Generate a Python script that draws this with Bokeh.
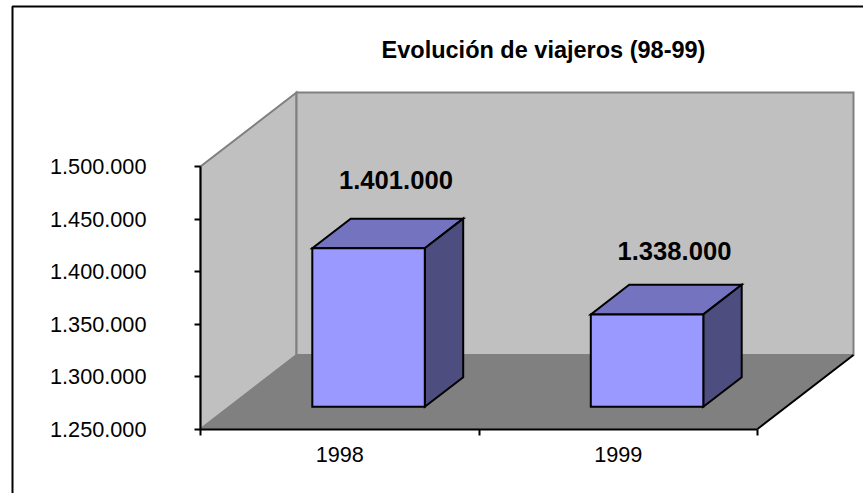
from bokeh.plotting import figure
from bokeh.embed import file_html
from bokeh.resources import INLINE
from bokeh.models import FixedTicker, LinearAxis, Range1d, Label
from bokeh.core.properties import value

categories = ["1998", "1999"]
viajeros = [1401000, 1338000]
value_labels = ["1.401.000", "1.338.000"]
y_ticks = [1250000, 1300000, 1350000, 1400000, 1450000, 1500000]
y_tick_labels = ["1.250.000", "1.300.000", "1.350.000", "1.400.000", "1.450.000", "1.500.000"]
title = "Evolución de viajeros (98-99)"

W, H = 863, 493
FONT = "Liberation Sans"
# pixel scale of the chart box
X0, X1, Y0, Y1 = 200.0, 757.0, 428.5, 166.0
VMIN, VMAX = 1250000, 1500000
sx = (X1 - X0) / 2.0
sy = (Y0 - Y1) / (VMAX - VMIN)
DX = 96.0 / sx          # depth of the box in data units
DY = 74.0 / sy

x_range = Range1d(-X0 / sx, (W - X0) / sx)
y_range = Range1d(VMIN - (H - Y0) / sy, VMIN + Y0 / sy)

p = figure(width=W, height=H, x_range=x_range, y_range=y_range,
           output_backend="svg", toolbar_location=None,
           x_axis_type=None, y_axis_type=None,
           min_border=0, min_border_left=0, min_border_right=0,
           min_border_top=0, min_border_bottom=0,
           margin=0)
p.grid.visible = False
p.outline_line_color = None
p.background_fill_color = "white"
p.border_fill_color = "white"


def proj(x, v, d):
    return x + d * DX, v + d * DY


def poly(pts, fill, line, lw):
    p.patch([a for a, _ in pts], [b for _, b in pts], fill_color=fill,
            line_color=line, line_width=lw, line_join="miter")


# walls and floor
c = [(0, VMIN), (2, VMIN), (2, VMAX), (0, VMAX)]
bw = [proj(x, v, 1) for x, v in c]
poly([proj(0, VMIN, 0), proj(0, VMIN, 1), proj(0, VMAX, 1), proj(0, VMAX, 0)], "#C0C0C0", "#808080", 2)
poly(bw, "#C0C0C0", "#808080", 2)
poly([proj(0, VMIN, 0), proj(2, VMIN, 0), proj(2, VMIN, 1), proj(0, VMIN, 1)], "#808080", "#808080", 1)
rx, ry = zip(proj(2, VMIN, 0), proj(2, VMIN, 1))
p.line(list(rx), list(ry), line_color="black", line_width=2)

# bars
BAR_W = 112.5 / sx
D_FRONT, D_BACK = 0.30, 0.70
LABEL_OFFSETS = [(-11, -30), (-11, -25)]
for i, v in enumerate(viajeros):
    xl = i + 0.5 - BAR_W / 2
    xr = i + 0.5 + BAR_W / 2
    poly([proj(xl, v, D_FRONT), proj(xr, v, D_FRONT), proj(xr, v, D_BACK), proj(xl, v, D_BACK)],
         "#7373BF", "black", 2)
    poly([proj(xr, VMIN, D_FRONT), proj(xr, VMIN, D_BACK), proj(xr, v, D_BACK), proj(xr, v, D_FRONT)],
         "#4D4D80", "black", 2)
    poly([proj(xl, VMIN, D_FRONT), proj(xr, VMIN, D_FRONT), proj(xr, v, D_FRONT), proj(xl, v, D_FRONT)],
         "#9999FF", "black", 2)
    lx, ly = proj(i + 0.5, v, D_BACK)
    p.text([lx], [ly], text=[value_labels[i]], text_font=value(FONT), text_font_style="bold",
           text_font_size="25.6px", text_color="black", text_align="center",
           text_baseline="bottom", x_offset=LABEL_OFFSETS[i][0], y_offset=LABEL_OFFSETS[i][1])

# axes
xa = LinearAxis(fixed_location=VMIN, bounds=(0, 2),
                ticker=FixedTicker(ticks=[0.5, 1.5], minor_ticks=[0, 1, 2]),
                major_label_overrides={0.5: categories[0], 1.5: categories[1]},
                major_tick_out=0, major_tick_in=0, minor_tick_out=6, minor_tick_in=0,
                major_label_standoff=12, major_label_text_font=FONT,
                major_label_text_font_size="21.7px", major_label_text_color="black",
                axis_line_color="black", axis_line_width=2, minor_tick_line_width=2,
                minor_tick_line_color="black")
p.add_layout(xa, "below")
ya = LinearAxis(fixed_location=0, bounds=(VMIN, VMAX),
                ticker=FixedTicker(ticks=y_ticks),
                major_label_overrides=dict(zip(y_ticks, y_tick_labels)),
                major_tick_out=6, major_tick_in=0, minor_tick_out=0, minor_tick_in=0,
                major_label_standoff=48, major_label_text_font=FONT,
                major_label_text_font_size="21.7px", major_label_text_color="black",
                axis_line_color="black", axis_line_width=2, major_tick_line_width=2,
                major_tick_line_color="black")
p.add_layout(ya, "left")

# title and chart-area border
p.add_layout(Label(x=543, y=H - 49, x_units="screen", y_units="screen", text=title,
                   text_font=FONT, text_font_style="bold", text_font_size="23.5px",
                   text_color="black", text_align="center", text_baseline="middle"))
bx = [(12.0 - X0) / sx, (12.0 - X0) / sx, (W - X0) / sx]
by = [VMIN - (H - Y0) / sy, VMIN + (Y0 - 6.0) / sy, VMIN + (Y0 - 6.0) / sy]
p.line(bx, by, line_color="black", line_width=2)

open("out.html", "w").write(file_html(p, INLINE))
